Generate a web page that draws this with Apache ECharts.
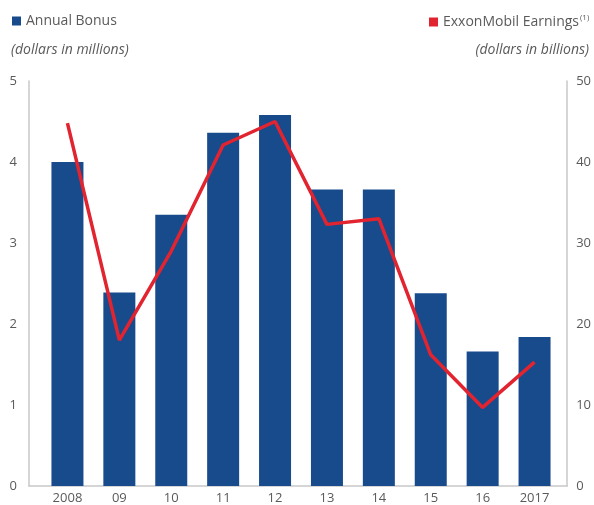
<!DOCTYPE html>
<html>
<head>
<meta charset="utf-8">
<script src="https://cdn.jsdelivr.net/npm/echarts@6/dist/echarts.min.js"></script>
<style>
  html, body { margin: 0; padding: 0; background: #fff; }
  #chart { width: 594px; height: 505px; }
</style>
</head>
<body>
<div id="chart"></div>
<script>
const years = ['2008', '09', '10', '11', '12', '13', '14', '15', '16', '2017']
const bonus = [4.0, 2.39, 3.35, 4.36, 4.58, 3.66, 3.66, 2.38, 1.66, 1.84] // $ millions
const earnings = [44.8, 18.0, 29.0, 42.1, 45.0, 32.3, 33.0, 16.2, 9.7, 15.3] // $ billions

const font = '"Open Sans", "Noto Sans", sans-serif'
const gray = '#5a5a5a'
const axisGray = '#c8c8c8'

const chart = echarts.init(document.getElementById('chart'))

const option = {
  animation: false,
  textStyle: { fontFamily: font },
  title: [
    {
      text: '(dollars in millions)',
      left: 6,
      top: 38,
      textStyle: { fontFamily: font, fontSize: 14, fontStyle: 'italic', fontWeight: 'normal', color: gray }
    },
    {
      text: '(dollars in billions)',
      right: 0,
      top: 38,
      textStyle: { fontFamily: font, fontSize: 14, fontStyle: 'italic', fontWeight: 'normal', color: gray }
    }
  ],
  legend: [
    {
      data: ['Annual Bonus'],
      left: 7,
      top: 9,
      icon: 'rect',
      itemWidth: 9,
      itemHeight: 9,
      selectedMode: false,
      textStyle: { fontFamily: font, fontSize: 14, color: gray }
    },
    {
      data: ['ExxonMobil Earnings'],
      left: 424,
      top: 9,
      icon: 'rect',
      itemWidth: 9,
      itemHeight: 9,
      selectedMode: false,
      formatter: name => name + '{sup|(1)}',
      textStyle: {
        fontFamily: font,
        fontSize: 14,
        color: gray,
        rich: {
          sup: { fontSize: 8, color: gray, verticalAlign: 'top', padding: [0, 0, 8, 1] }
        }
      }
    }
  ],
  grid: [
    // outer grid: axis lines and labels
    { left: 29, right: 26, top: 81, bottom: 19 },
    // inner grid: the marks
    { left: 41.5, right: 33.5, top: 81, bottom: 19 }
  ],
  xAxis: [
    {
      type: 'value',
      gridIndex: 0,
      min: 0,
      max: 1,
      axisLine: { show: true, onZero: false, lineStyle: { color: axisGray, width: 1.5 } },
      axisTick: { show: false },
      axisLabel: { show: false },
      splitLine: { show: false }
    },
    {
      type: 'category',
      gridIndex: 1,
      data: years,
      axisLine: { show: false },
      axisTick: { show: false },
      axisLabel: { fontFamily: font, fontSize: 13, color: gray, margin: 6 }
    }
  ],
  yAxis: [
    {
      type: 'value',
      gridIndex: 0,
      position: 'left',
      min: 0,
      max: 5,
      interval: 1,
      axisLine: { show: true, lineStyle: { color: axisGray, width: 1.5 } },
      axisTick: { show: false },
      splitLine: { show: false },
      axisLabel: { fontFamily: font, fontSize: 13, color: gray, margin: 12 }
    },
    {
      type: 'value',
      gridIndex: 0,
      position: 'right',
      min: 0,
      max: 50,
      interval: 10,
      axisLine: { show: true, lineStyle: { color: axisGray, width: 1.5 } },
      axisTick: { show: false },
      splitLine: { show: false },
      axisLabel: { fontFamily: font, fontSize: 13, color: gray, margin: 9 }
    },
    { type: 'value', gridIndex: 1, min: 0, max: 5, show: false },
    { type: 'value', gridIndex: 1, min: 0, max: 50, show: false }
  ],
  series: [
    {
      name: 'Annual Bonus',
      type: 'bar',
      xAxisIndex: 1,
      yAxisIndex: 2,
      barWidth: 32,
      itemStyle: { color: '#174b8c' },
      data: bonus
    },
    {
      name: 'ExxonMobil Earnings',
      type: 'line',
      xAxisIndex: 1,
      yAxisIndex: 3,
      showSymbol: false,
      symbol: 'none',
      lineStyle: { color: '#e1242f', width: 3.5 },
      itemStyle: { color: '#e1242f' },
      data: earnings
    }
  ]
}

chart.setOption(option)
</script>
</body>
</html>
